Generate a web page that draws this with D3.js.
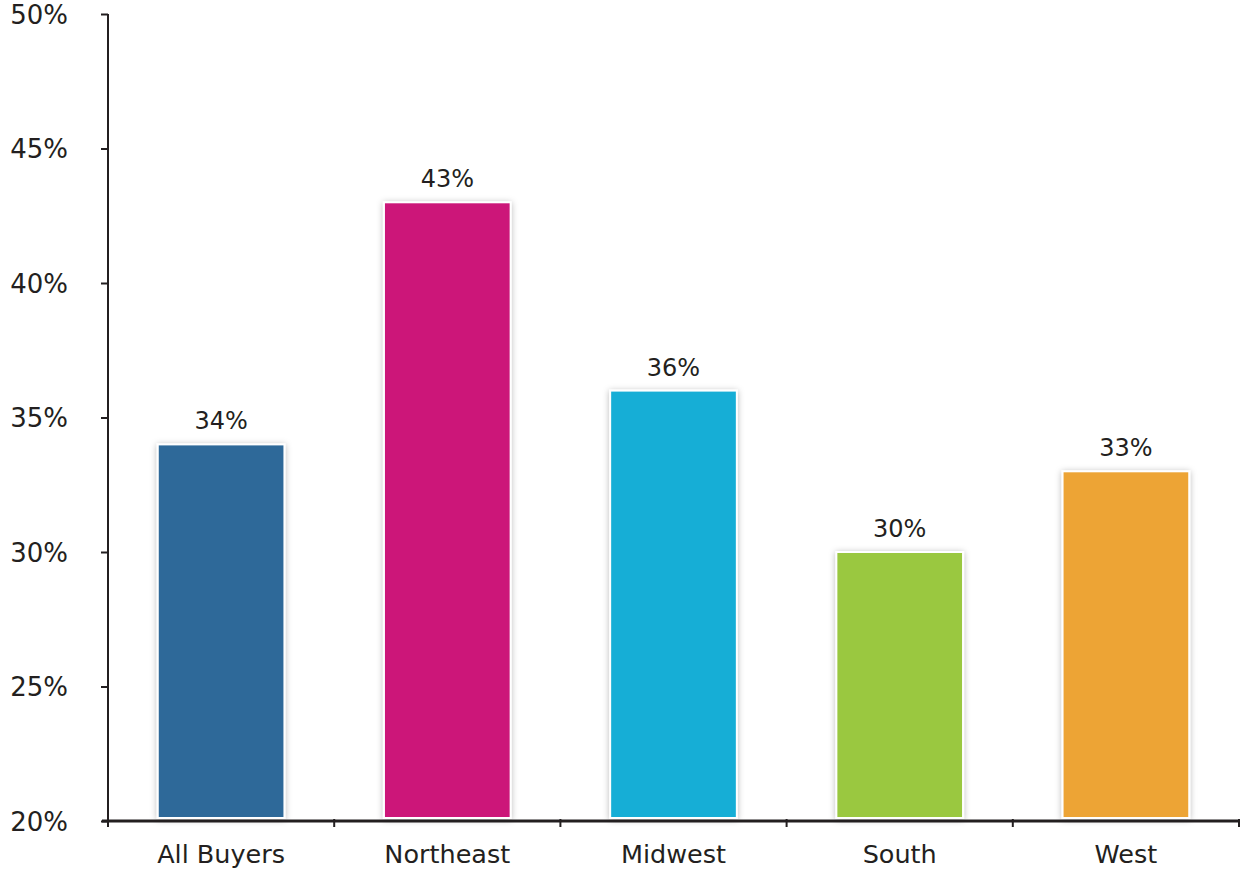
<!DOCTYPE html>
<html>
<head>
<meta charset="utf-8">
<script src="https://cdn.jsdelivr.net/npm/d3@7"></script>
<style>
  html, body { margin: 0; padding: 0; background: #fff; }
  svg { display: block; font-family: "DejaVu Sans", "Open Sans", sans-serif; }
</style>
</head>
<body>
<svg id="chart" width="1242" height="871"></svg>
<script>
// Share of buyers by region
const categories = ["All Buyers", "Northeast", "Midwest", "South", "West"];
const values = [34, 43, 36, 30, 33];
const colors = ["#2e6999", "#cc1579", "#15aed6", "#9ac841", "#eda436"];
const yTicks = [20, 25, 30, 35, 40, 45, 50];

const svg = d3.select("#chart");
const plotLeft = 108, plotRight = 1239, plotTop = 14, plotBottom = 821;
const ink = "#231f20";
const font = "'DejaVu Sans', 'Open Sans', sans-serif";

const x = d3.scaleBand().domain(categories).range([plotLeft, plotRight]).paddingInner(0.44).paddingOuter(0.22);
const y = d3.scaleLinear().domain([20, 50]).range([plotBottom, plotTop]);

// soft shadow around each bar
const defs = svg.append("defs");
const f = defs.append("filter").attr("id", "shadow")
  .attr("x", "-20%").attr("y", "-20%").attr("width", "140%").attr("height", "140%");
f.append("feDropShadow").attr("dx", 0).attr("dy", 1).attr("stdDeviation", 3)
  .attr("flood-color", "#000").attr("flood-opacity", 0.28);

// bars
svg.append("g").selectAll("rect").data(categories).join("rect")
  .attr("x", d => x(d))
  .attr("y", (d, i) => y(values[i]))
  .attr("width", x.bandwidth())
  .attr("height", (d, i) => y(20) - 3 - y(values[i]))
  .attr("fill", (d, i) => colors[i])
  .attr("stroke", "#fff")
  .attr("stroke-width", 2)
  .attr("filter", "url(#shadow)");

// value labels
svg.append("g").selectAll("text").data(categories).join("text")
  .attr("x", d => x(d) + x.bandwidth() / 2)
  .attr("y", (d, i) => y(values[i]) - 15)
  .attr("text-anchor", "middle")
  .attr("font-size", 24)
  .attr("fill", ink)
  .text((d, i) => values[i] + "%");

// y axis
const yAxis = d3.axisLeft(y).tickValues(yTicks).tickFormat(d => d + "%").tickSize(7).tickPadding(40);
const gy = svg.append("g").attr("transform", `translate(${plotLeft},0)`).call(yAxis);
gy.select(".domain").attr("d", `M0,${plotTop}V${plotBottom + 4}`).attr("stroke", ink).attr("stroke-width", 2);
gy.selectAll(".tick line").attr("stroke", ink).attr("stroke-width", 2);
gy.selectAll(".tick text").attr("font-size", 26).attr("fill", ink)
  .attr("font-family", font)
  .attr("text-anchor", "end").attr("x", -40).attr("dy", "0.36em");

// x axis with boundary ticks between categories
const gx = svg.append("g").attr("transform", `translate(0,${plotBottom})`);
gx.append("line").attr("x1", plotLeft - 6).attr("x2", plotRight + 1)
  .attr("stroke", ink).attr("stroke-width", 3);
const bounds = d3.range(categories.length + 1).map(i => plotLeft + i * x.step());
gx.selectAll(".bt").data(bounds).join("line").attr("class", "bt")
  .attr("x1", d => d).attr("x2", d => d).attr("y1", -2).attr("y2", 6)
  .attr("stroke", ink).attr("stroke-width", 2);
gx.selectAll(".cl").data(categories).join("text").attr("class", "cl")
  .attr("x", d => x(d) + x.bandwidth() / 2)
  .attr("y", 42)
  .attr("text-anchor", "middle")
  .attr("font-size", 25.5)
  .attr("fill", ink)
  .text(d => d);
</script>
</body>
</html>
